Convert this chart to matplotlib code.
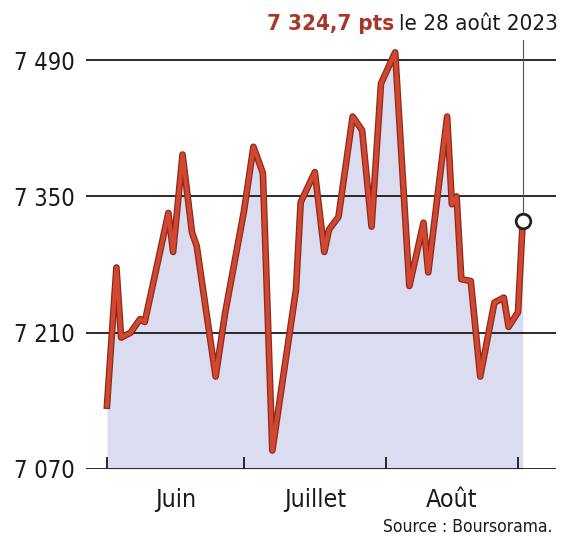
import matplotlib
matplotlib.use("Agg")
import matplotlib.pyplot as plt
import matplotlib.patheffects as pe

plt.rcParams['font.family'] = ['DejaVu Sans']
plt.rcParams['font.stretch'] = 'condensed'

# CAC 40, juin - août 2023 (en jours depuis le 1er juin)
jours = [0, 2, 3, 5, 7, 8, 13, 14, 16, 18, 19, 23, 25, 29, 31, 33, 35, 40, 41,
         44, 46, 47, 49, 52, 54, 56, 58, 61, 64, 67, 68, 72, 73, 74, 75, 77,
         79, 82, 84, 85, 87, 88]
points = [7135, 7277, 7205, 7210, 7224, 7221, 7333, 7293, 7393, 7313, 7299,
          7165, 7230, 7335, 7401, 7374, 7089, 7254, 7344, 7375, 7293, 7316,
          7329, 7432, 7418, 7319, 7466, 7498, 7258, 7323, 7272, 7432, 7342,
          7350, 7265, 7263, 7165, 7241, 7246, 7216, 7231, 7324.7]

y_ticks = [7070, 7210, 7350, 7490]
y_labels = ['7 070', '7 210', '7 350', '7 490']
mois_limites = [0, 29, 59, 87]
mois = ['Juin', 'Juillet', 'Août']

rouge = '#d2472f'

fig = plt.figure(figsize=(5.62, 5.42), dpi=100)
ax = fig.add_axes([0.153, 0.1347, 0.836, 0.828])
ax.set_xlim(-4.44, 95.0)
ax.set_ylim(7070, 7531)

ax.fill_between(jours, points, 7070, color='#dcdcf0', lw=0, zorder=1)

for v in y_ticks:
    ax.axhline(v, color='#1a1a1a', lw=1.3, zorder=2)

ax.plot(jours, points, color=rouge, lw=3.0, zorder=4, solid_joinstyle='round',
        path_effects=[pe.Stroke(linewidth=4.8, foreground='#8c2a1e'), pe.Normal()])

# repère du dernier cours
ylo, yhi = ax.get_ylim()
ax.axvline(jours[-1], ymin=(points[-1] - ylo) / (yhi - ylo), ymax=0.955,
           color='#555555', lw=0.8, zorder=3)
ax.plot(jours[-1], points[-1], 'o', ms=10.5, mfc='white', mec='#222222', mew=2.0, zorder=5)

for s in ax.spines.values():
    s.set_visible(False)

ax.set_yticks(y_ticks)
ax.set_yticklabels(y_labels)
ax.tick_params(axis='y', length=0, pad=8, labelsize=17, labelcolor='#1a1a1a')

ax.set_xticks(mois_limites)
ax.set_xticklabels([])
ax.tick_params(axis='x', which='major', direction='in', length=8.5, width=1.3,
               color='#1a1a1a')
milieux = [(a + b) / 2 for a, b in zip(mois_limites[:-1], mois_limites[1:])]
ax.set_xticks(milieux, minor=True)
ax.set_xticklabels(mois, minor=True)
ax.tick_params(axis='x', which='minor', length=0, pad=14, labelsize=18,
               labelcolor='#1a1a1a')

fig.text(0.982, 0.027, 'Source : Boursorama.', ha='right', va='center',
         fontsize=12.5, color='#1a1a1a')

# titre : valeur en gras rouge + date
t2 = fig.text(0.993, 0.955, 'le 28 août 2023', ha='right', va='center',
              fontsize=16, color='#1a1a1a')
fig.canvas.draw()
bb = t2.get_window_extent()
x_left = bb.x0 / fig.bbox.width - 0.008
fig.text(x_left, 0.955, '7 324,7 pts', ha='right', va='center', fontsize=16,
         fontweight='bold', color='#a8362a')

fig.savefig('out.png', dpi=100)
